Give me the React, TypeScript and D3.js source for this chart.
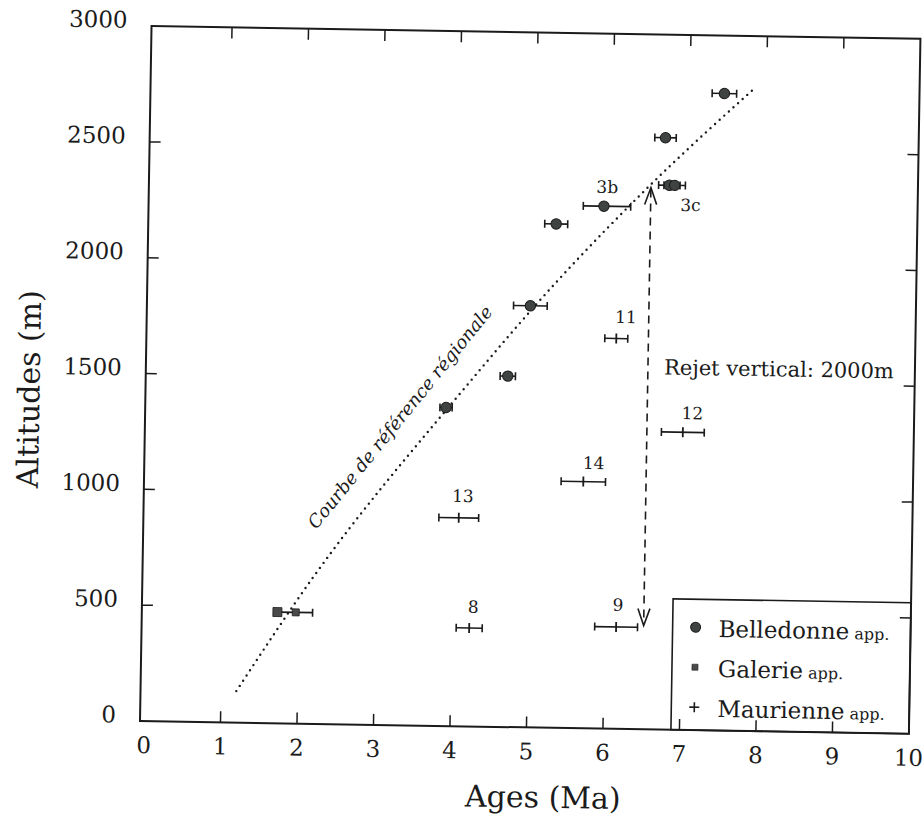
import React from 'react';
import * as d3 from 'd3';

// ---- axis ticks ----
const xTicks = [0, 1, 2, 3, 4, 5, 6, 7, 8, 9, 10];
const yTicks = [0, 500, 1000, 1500, 2000, 2500, 3000];

// ---- Belledonne (circles) ----
const belledonneAge = [7.45, 6.69, 6.75, 6.82, 5.9, 5.28, 4.96, 4.68, 3.88];
const belledonneAlt = [2750, 2555, 2350, 2350, 2255, 2175, 1820, 1515, 1375];
const belledonneErrMinus = [0.16, 0.14, 0.14, 0.14, 0.27, 0.15, 0.22, 0.1, 0.08];
const belledonneErrPlus = [0.16, 0.14, 0.14, 0.14, 0.35, 0.15, 0.22, 0.1, 0.08];
const belledonneLabelText = ['3b', '3c'];
const belledonneLabelAge = [5.94, 7.03];
const belledonneLabelAlt = [2338, 2266];

// ---- Galerie (squares) ----
const galerieAge = [1.72, 1.96];
const galerieAlt = [480, 480];
const galerieErr = [0, 0.22];

// ---- Maurienne (crosses) ----
const maurienneId = ['8', '9', '13', '14', '11', '12'];
const maurienneAge = [4.23, 6.15, 4.07, 5.69, 6.09, 6.98];
const maurienneAlt = [425, 440, 900, 1065, 1685, 1285];
const maurienneErr = [0.17, 0.28, 0.26, 0.29, 0.15, 0.28];
const maurienneLabelAge = [4.28, 6.17, 4.12, 5.82, 6.21, 7.1];
const maurienneLabelAlt = [516, 535, 994, 1146, 1778, 1368];

// ---- regional reference curve ----
const curveAge = [1.2, 2.18, 4.02, 5.31, 6.52, 7.86];
const curveAlt = [136, 633, 1420, 1930, 2356, 2780];
const curveLabel = 'Courbe de référence régionale';
const curveLabelAge = 3.28;
const curveLabelAlt = 1330;

// ---- vertical offset arrow ----
const rejetAge = 6.51;
const rejetFrom = 448;
const rejetTo = 2339;
const rejetLabel = 'Rejet vertical: 2000m';
const rejetLabelAge = 6.72;
const rejetLabelAlt = 1565;

// ---- legend ----
const legendNames = ['Belledonne', 'Galerie', 'Maurienne'];
const legendSuffix = 'app.';

const FONT = '"DejaVu Serif", serif';
const INK = '#1b1b1b';

export default function App() {
  const W = 769;
  const H = 695;
  const x = d3.scaleLinear().domain([0, 10]).range([4, W]);
  const y = d3.scaleLinear().domain([0, 3000]).range([0, -H]);
  const tick = 11;
  const cap = 4;

  const curvePath = d3
    .line<number>()
    .x((_, i) => x(curveAge[i]))
    .y((_, i) => y(curveAlt[i]))
    .curve(d3.curveMonotoneX)(curveAge) as string;

  const errBar = (a0: number, a1: number, alt: number, key: string) => (
    <g key={key} stroke={INK} strokeWidth={1.6}>
      <line x1={x(a0)} x2={x(a1)} y1={y(alt)} y2={y(alt)} />
      <line x1={x(a0)} x2={x(a0)} y1={y(alt) - cap} y2={y(alt) + cap} />
      <line x1={x(a1)} x2={x(a1)} y1={y(alt) - cap} y2={y(alt) + cap} />
    </g>
  );

  const ax = x(rejetAge);
  const top = y(rejetTo);
  const bot = y(rejetFrom);

  // legend geometry (plot pixel coords)
  const lgLeft = 531;
  const lgTop = -131;
  const rowBase = [-93.5, -53.5, -13.5];

  const angle = (-Math.atan((0.42 * (H / 3000) * 1000) / (x(1) - x(0))) * 180) / Math.PI;

  return (
    <svg
      width={924}
      height={819}
      style={{ position: 'absolute', left: 0, top: 0, background: '#fff' }}
      fontFamily={FONT}
    >
      <rect width={924} height={819} fill="#fff" />
      <g transform="translate(140,721) rotate(0.95)">
        {/* legend box */}
        <rect
          x={lgLeft}
          y={lgTop}
          width={W - lgLeft}
          height={-lgTop}
          fill="#fff"
          stroke={INK}
          strokeWidth={1.6}
        />
        {/* frame */}
        <rect x={0} y={-H} width={W} height={H} fill="none" stroke={INK} strokeWidth={2} />
        {/* x ticks (bottom & top) */}
        {xTicks.slice(1, -1).map((t) => (
          <g key={'xt' + t} stroke={INK} strokeWidth={1.5}>
            <line x1={x(t)} x2={x(t)} y1={0} y2={-tick} />
            <line x1={x(t)} x2={x(t)} y1={-H} y2={-H + tick} />
          </g>
        ))}
        {/* y ticks (left & right) */}
        {yTicks.slice(1, -1).map((t) => (
          <g key={'yt' + t} stroke={INK} strokeWidth={1.5}>
            <line x1={0} x2={tick} y1={y(t)} y2={y(t)} />
            <line x1={W} x2={W - tick} y1={y(t)} y2={y(t)} />
          </g>
        ))}
        {/* x tick labels */}
        {xTicks.map((t) => (
          <text key={'xl' + t} x={x(t)} y={32} textAnchor="middle" fontSize={23} fill={INK}>
            {t}
          </text>
        ))}
        {/* y tick labels */}
        {yTicks.map((t) => (
          <text key={'yl' + t} x={-24} y={y(t) + 2} textAnchor="end" fontSize={23} fill={INK}>
            {t}
          </text>
        ))}
        {/* axis titles */}
        <text x={404} y={80} textAnchor="middle" fontSize={30} fill={INK}>
          Ages (Ma)
        </text>
        <text
          transform={`translate(-106,-330) rotate(-90)`}
          textAnchor="middle"
          fontSize={30}
          fill={INK}
        >
          Altitudes (m)
        </text>

        {/* reference curve */}
        <path
          d={curvePath}
          fill="none"
          stroke={INK}
          strokeWidth={2.4}
          strokeLinecap="round"
          strokeDasharray="0 6.2"
        />
        <text
          transform={`translate(${x(curveLabelAge)},${y(curveLabelAlt)}) rotate(${angle})`}
          textAnchor="middle"
          dy="0.35em"
          fontSize={18}
          fontStyle="italic"
          fill={INK}
        >
          {curveLabel}
        </text>

        {/* vertical offset arrow */}
        <g stroke={INK} strokeWidth={1.6} fill="none">
          <line x1={ax} x2={ax} y1={top + 2} y2={bot - 2} strokeDasharray="8 6" />
          <polyline points={`${ax - 6},${top + 17} ${ax},${top} ${ax + 6},${top + 17}`} />
          <polyline points={`${ax - 6},${bot - 17} ${ax},${bot} ${ax + 6},${bot - 17}`} />
        </g>
        <text
          x={x(rejetLabelAge)}
          y={y(rejetLabelAlt)}
          dy="0.35em"
          fontSize={21}
          fill={INK}
        >
          {rejetLabel}
        </text>

        {/* Belledonne */}
        {belledonneAge.map((a, i) =>
          errBar(a - belledonneErrMinus[i], a + belledonneErrPlus[i], belledonneAlt[i], 'be' + i)
        )}
        {belledonneAge.map((a, i) => (
          <circle
            key={'bc' + i}
            cx={x(a)}
            cy={y(belledonneAlt[i])}
            r={5.2}
            fill="#3f4442"
            stroke={INK}
            strokeWidth={1}
          />
        ))}
        {belledonneLabelText.map((t, i) => (
          <text
            key={'bl' + i}
            x={x(belledonneLabelAge[i])}
            y={y(belledonneLabelAlt[i])}
            dy="0.35em"
            textAnchor="middle"
            fontSize={17}
            fill={INK}
          >
            {t}
          </text>
        ))}

        {/* Galerie */}
        {galerieAge.map((a, i) =>
          galerieErr[i] > 0 ? errBar(a - galerieErr[i], a + galerieErr[i], galerieAlt[i], 'ge' + i) : null
        )}
        {galerieAge.map((a, i) => {
          const s = i === 0 ? 9 : 7;
          return (
            <rect
              key={'gs' + i}
              x={x(a) - s / 2}
              y={y(galerieAlt[i]) - s / 2}
              width={s}
              height={s}
              fill="#4a4a4a"
              stroke={INK}
              strokeWidth={0.8}
            />
          );
        })}

        {/* Maurienne */}
        {maurienneAge.map((a, i) =>
          errBar(a - maurienneErr[i], a + maurienneErr[i], maurienneAlt[i], 'me' + i)
        )}
        {maurienneAge.map((a, i) => (
          <line
            key={'mp' + i}
            x1={x(a)}
            x2={x(a)}
            y1={y(maurienneAlt[i]) - 5}
            y2={y(maurienneAlt[i]) + 5}
            stroke={INK}
            strokeWidth={1.8}
          />
        ))}
        {maurienneId.map((t, i) => (
          <text
            key={'ml' + i}
            x={x(maurienneLabelAge[i])}
            y={y(maurienneLabelAlt[i])}
            dy="0.35em"
            textAnchor="middle"
            fontSize={17}
            fill={INK}
          >
            {t}
          </text>
        ))}

        {/* legend content */}
        <circle cx={554} cy={rowBase[0] - 9.5} r={5} fill="#3f4442" stroke={INK} strokeWidth={1} />
        <rect x={551} y={rowBase[1] - 12.5} width={6} height={6} fill="#4a4a4a" stroke={INK} strokeWidth={0.6} />
        <g stroke={INK} strokeWidth={1.6}>
          <line x1={549} x2={559} y1={rowBase[2] - 9.5} y2={rowBase[2] - 9.5} />
          <line x1={554} x2={554} y1={rowBase[2] - 14.5} y2={rowBase[2] - 4.5} />
        </g>
        {legendNames.map((n, i) => (
          <text key={'lg' + i} x={577} y={rowBase[i]} fontSize={23} fill={INK}>
            {n}
            <tspan fontSize={16}> {legendSuffix}</tspan>
          </text>
        ))}
      </g>
    </svg>
  );
}
